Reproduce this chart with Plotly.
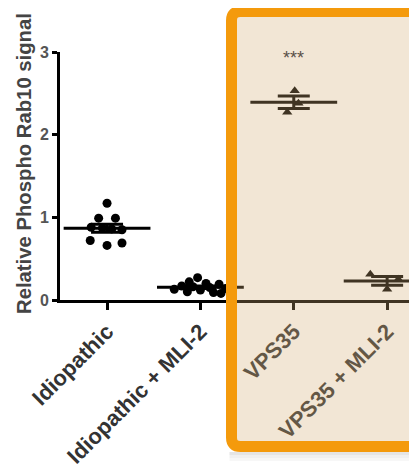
import numpy as np
import plotly.graph_objects as go

categories = ["Idiopathic", "Idiopathic + MLI-2", "VPS35", "VPS35 + MLI-2"]

idio_vals = [1.17, 0.99, 0.99, 0.88, 0.87, 0.86, 0.85, 0.72, 0.66, 0.69]
idio_off = [0.0, -0.09, 0.09, -0.17, -0.05, 0.05, 0.16, -0.18, 0.0, 0.16]

idio_mli_vals = [0.27, 0.22, 0.20, 0.19, 0.17, 0.16, 0.15, 0.14, 0.13, 0.12, 0.10, 0.09, 0.08]
idio_mli_off = [-0.03, -0.12, 0.06, 0.2, -0.2, -0.08, 0.1, 0.27, -0.28, 0.0, -0.14, 0.14, 0.22]

vps_vals = [2.53, 2.38, 2.27]
vps_off = [0.01, 0.05, -0.07]

vps_mli_vals = [0.31, 0.25, 0.13]
vps_mli_off = [-0.18, 0.12, 0.0]

y_ticks = [0, 1, 2, 3]
sig_label = "***"

groups = [
    (idio_vals, idio_off, "circle"),
    (idio_mli_vals, idio_mli_off, "circle"),
    (vps_vals, vps_off, "triangle-up"),
    (vps_mli_vals, vps_mli_off, "triangle-up"),
]

fig = go.Figure()
for i, (vals, offs, sym) in enumerate(groups):
    v = np.array(vals)
    mean = v.mean()
    sem = v.std(ddof=1) / np.sqrt(len(v))
    fig.add_trace(go.Scatter(
        x=[i + o for o in offs], y=vals, mode="markers",
        marker=dict(symbol=sym, size=9, color="black"),
        showlegend=False, hoverinfo="y"))
    fig.add_trace(go.Scatter(
        x=[i], y=[mean], mode="markers",
        marker=dict(symbol="line-ew", size=62, line=dict(width=3, color="black")),
        error_y=dict(type="data", array=[sem], thickness=3, width=16, color="black"),
        showlegend=False, hoverinfo="y"))

fig.add_annotation(x=2, y=2.93, text=sig_label, showarrow=False,
                   font=dict(size=18, color="#5a5048", family="Liberation Sans"),
                   yanchor="middle")

# page offset (browser body margin)
OFF = 8
L, T, W, H = 60 - OFF, 52 - OFF, 357, 248
FIG_W, FIG_H = 417 - OFF, 474 - OFF

def px(x):
    return (x - OFF - L) / W
def py(y):
    return (T + H - (y - OFF)) / H

# y-axis title as annotation
fig.add_annotation(xref="paper", yref="paper", x=px(24), y=py(164),
                   text="Relative Phospho Rab10 signal", textangle=-90,
                   showarrow=False, xanchor="center", yanchor="middle",
                   font=dict(size=20.3, color="#444444", family="Liberation Sans", weight="bold"))

# highlight box
x0, x1, y0, y1, r = 231.5, 440, 11.5, 446.5, 9
path = (f"M {px(x0)},{py(y0 + r)} Q {px(x0)},{py(y0)} {px(x0 + r)},{py(y0)} "
        f"L {px(x1)},{py(y0)} L {px(x1)},{py(y1)} L {px(x0 + r)},{py(y1)} "
        f"Q {px(x0)},{py(y1)} {px(x0)},{py(y1 - r)} Z")

for k, a in enumerate([0.10, 0.06, 0.03]):
    fig.add_shape(type="rect", xref="paper", yref="paper",
                  x0=px(x0 - 2), x1=px(x1), y0=py(452 + 3 * (k + 1)), y1=py(452 + 3 * k),
                  line=dict(width=0), fillcolor=f"rgba(0,0,0,{a})", layer="above")

fig.add_shape(type="path", path=path, xref="paper", yref="paper",
              line=dict(color="#F49A0C", width=11),
              fillcolor="rgba(212,172,115,0.30)", layer="above")

fig.update_layout(
    width=FIG_W, height=FIG_H,
    margin=dict(l=L, r=FIG_W - L - W, t=T, b=FIG_H - T - H, autoexpand=False),
    plot_bgcolor="white", paper_bgcolor="white",
    font=dict(family="Liberation Sans", color="#333333"),
    xaxis=dict(range=[-0.504, 3.32], tickmode="array",
               tickvals=list(range(len(categories))), ticktext=categories,
               tickangle=-45, showline=True, linecolor="black", linewidth=3,
               ticks="outside", ticklen=7, tickwidth=3, tickcolor="black",
               showgrid=False, zeroline=False, automargin=False,
               tickfont=dict(size=22, color="#333333", family="Liberation Sans", weight="bold")),
    yaxis=dict(range=[0, 3], tickvals=y_ticks, showline=True, linecolor="black",
               linewidth=3, ticks="outside", ticklen=5, tickwidth=3, tickcolor="black",
               showgrid=False, zeroline=False, automargin=False,
               tickfont=dict(size=16, color="#555555", family="Liberation Sans", weight="bold")),
)

fig.write_html("out.html")
